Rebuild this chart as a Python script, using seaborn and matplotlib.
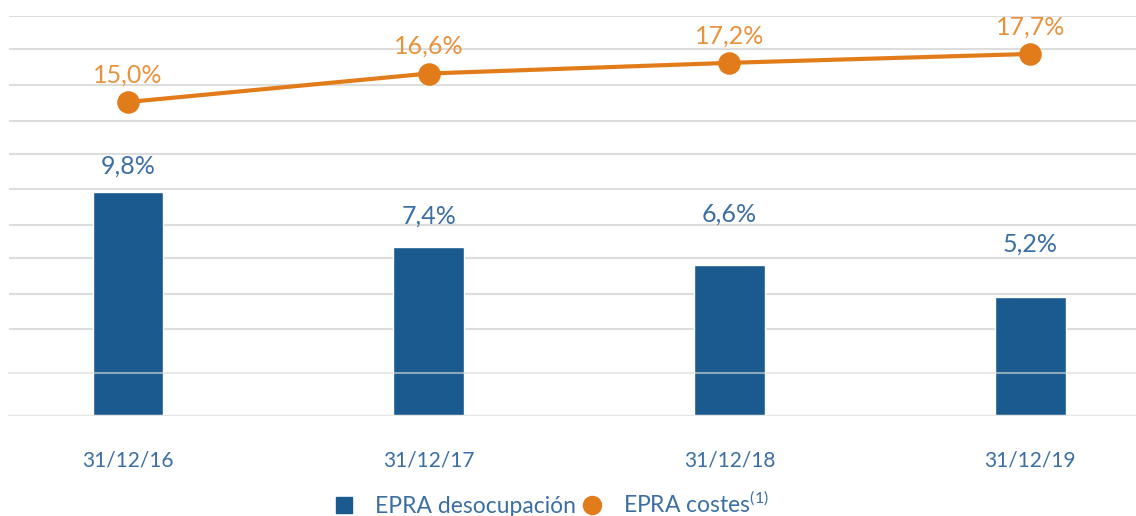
import numpy as np
import matplotlib
matplotlib.use("Agg")
import matplotlib.pyplot as plt
import seaborn as sns
from matplotlib.lines import Line2D

# Data
dates = ["31/12/16", "31/12/17", "31/12/18", "31/12/19"]
desocupacion = [9.8, 7.4, 6.6, 5.2]
costes = [15.0, 16.6, 17.2, 17.7]
series_names = ["EPRA desocupación", "EPRA costes$^{(1)}$"]

BLUE = "#1a5a8e"
TEXT_BLUE = "#3b6fa3"
ORANGE = "#e27c1a"
ORANGE_TEXT = "#e8923c"
GRID = "#dddddd"

sns.set_theme(style="white")
plt.rcParams["font.family"] = ["Lato", "DejaVu Sans"]
plt.rcParams["mathtext.fontset"] = "custom"
plt.rcParams["mathtext.rm"] = "Lato"

fig = plt.figure(figsize=(11.36, 5.16), dpi=100)
ax = fig.add_axes([8 / 1136, 100 / 516, 1128 / 1136, 400 / 516])

# Bars (primary axis)
sns.barplot(x=dates, y=desocupacion, ax=ax, color=BLUE, width=0.236,
            saturation=1, zorder=3)
ax.set_ylim(0, 400 / 22.85)
ax.set_xlim(-0.399, 3.352)

# Horizontal guide lines, pixel rows measured from the top of the axes
top = ax.get_ylim()[1]
grid_px = [16, 49, 85, 121, 154, 189, 225, 258, 294, 329]
for y in grid_px:
    ax.axhline((416 - y) / 400 * top, xmin=2 / 1128, color=GRID,
               lw=1.5, zorder=1)
ax.axhline((416 - 373) / 400 * top, color="#d9d9d9", alpha=0.6,
           lw=1.5, zorder=4)
ax.axhline(0, color="#e6e6e6", lw=2.5, zorder=5)

bar_offsets = [26, 31, 51, 53]
for i, (v, off) in enumerate(zip(desocupacion, bar_offsets)):
    ax.annotate(f"{v:.1f}%".replace(".", ","), (i, v), xytext=(0, off * 0.72),
                textcoords="offset points", ha="center", va="center",
                fontsize=18, color=TEXT_BLUE)

for s in ax.spines.values():
    s.set_visible(False)
ax.set_yticks([])
ax.tick_params(axis="x", length=0, pad=25, labelsize=15, labelcolor=TEXT_BLUE)
ax.set_xlabel("")
ax.set_ylabel("")

# Line (secondary axis)
ax2 = ax.twinx()
sns.pointplot(x=dates, y=costes, ax=ax2, color=ORANGE, markers="o",
              markersize=14, linewidth=3, zorder=6)
ax2.set_xlim(-0.399, 3.352)
ax2.set_ylim(-47 / 17.8, 353 / 17.8)
for i, v in enumerate(costes):
    ax2.annotate(f"{v:.1f}%".replace(".", ","), (i, v), xytext=(0, 27 * 0.72),
                 textcoords="offset points", ha="center", va="center",
                 fontsize=18, color=ORANGE_TEXT)
for s in ax2.spines.values():
    s.set_visible(False)
ax2.set_yticks([])
ax2.set_ylabel("")

handles = [
    Line2D([], [], marker="s", linestyle="none", markersize=11,
           markerfacecolor=BLUE, markeredgecolor=BLUE),
    Line2D([], [], marker="o", linestyle="none", markersize=13,
           markerfacecolor=ORANGE, markeredgecolor=ORANGE),
]
leg = fig.legend(handles, series_names, loc="center",
                 bbox_to_anchor=(550 / 1136, 12 / 516),
                 ncol=2, frameon=False, fontsize=16.5, handletextpad=0.75,
                 columnspacing=0.1, handlelength=1.2)
for t in leg.get_texts():
    t.set_color(TEXT_BLUE)

fig.savefig("out.png", dpi=100)
